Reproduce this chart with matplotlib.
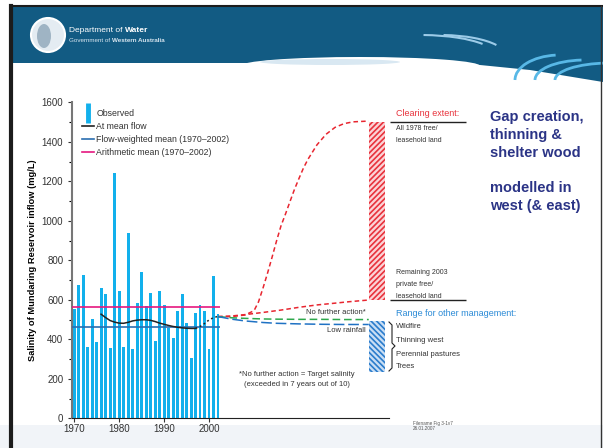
import matplotlib
matplotlib.use("Agg")
import matplotlib.pyplot as plt
from matplotlib.lines import Line2D
from matplotlib.patches import Rectangle, Ellipse, Arc, Circle, Polygon

plt.rcParams['font.family'] = ['Liberation Sans', 'DejaVu Sans']
plt.rcParams['hatch.linewidth'] = 1.2

# observed annual salinity (mg/L), 1970-2002
years = list(range(1970, 2003))
observed = [553, 676, 726, 360, 504, 386, 659, 629, 357, 1244, 647, 360, 940, 352, 586,
            742, 569, 633, 389, 645, 574, 459, 405, 543, 628, 482, 307, 533, 574, 543,
            351, 722, 528]

# salinity at mean flow (smoothed)
mean_flow_years = [1976, 1977, 1978, 1979, 1980, 1981, 1982, 1983, 1984, 1985, 1986, 1987,
                   1988, 1989, 1990, 1991, 1992, 1993, 1994, 1995, 1996, 1997]
mean_flow_vals = [527, 510, 495, 487, 482, 481, 486, 493, 497, 499, 499, 496,
                  490, 482, 476, 470, 465, 461, 458, 456, 455, 455]
dotted_years = [1997, 1998, 1999, 2000, 2001, 2002]
dotted_vals = [455, 465, 480, 498, 510, 516]

flow_weighted_mean = 461
arithmetic_mean = 562

# projections to ~2035
clear_all_years = [2002, 2005, 2008, 2010, 2011, 2012, 2013, 2014, 2015, 2016, 2017, 2018,
                   2019, 2020, 2021, 2022, 2024, 2026, 2028, 2030, 2032, 2035.5]
clear_all_vals = [515, 515, 523, 545, 590, 660, 735, 815, 898, 975, 1035, 1098,
                  1160, 1215, 1268, 1312, 1385, 1438, 1473, 1492, 1501, 1505]
clear_rem_years = [2002, 2005, 2008, 2012, 2016, 2020, 2024, 2028, 2031, 2035.5]
clear_rem_vals = [515, 518, 525, 536, 548, 562, 574, 583, 590, 599]
no_action_years = [2002, 2005, 2008, 2012, 2015, 2020, 2025, 2030, 2035.5]
no_action_vals = [515, 509, 506, 503, 502, 501, 501, 500, 500]
low_rain_years = [2002, 2005, 2008, 2012, 2015, 2020, 2025, 2030, 2035.5]
low_rain_vals = [515, 502, 493, 485, 481, 478, 476, 475, 475]

# ranges shown as hatched bars
clearing_range = (600, 1500)
mgmt_range = (236, 494)
range_x = (2035.6, 2039.2)

fig = plt.figure(figsize=(6.03, 4.48), dpi=100)

# slide background / header in pixel coordinates
bg = fig.add_axes([0, 0, 1, 1], zorder=0)
bg.set_xlim(0, 603)
bg.set_ylim(448, 0)
bg.axis('off')
bg.add_patch(Rectangle((0, 425), 603, 23, color='#f1f4f8', lw=0))
bg.add_patch(Rectangle((12, 7), 591, 56, color='#125b83', lw=0))
bg.add_patch(Polygon([(380, 60), (450, 62), (530, 70), (603, 82), (603, 60)], color='#125b83', lw=0))
bg.add_patch(Ellipse((360, 66), 240, 18, color='white', lw=0))
bg.add_patch(Ellipse((330, 62), 140, 6, color='#d9e8f2', lw=0))
for cx, w, h in [(560, 90, 50), (585, 100, 40), (610, 110, 34)]:
    bg.add_patch(Arc((cx, 80), w, h, theta1=180, theta2=260, color='#58b8e6', lw=2))
for cx, w in [(420, 150), (440, 130)]:
    bg.add_patch(Arc((cx, 55), w, 40, theta1=280, theta2=350, color='#9ccbe8', lw=1.5))
bg.plot([11, 11], [6, 448], color='#1c1c1c', lw=3)
bg.plot([11, 603], [6, 6], color='#1c1c1c', lw=1.5)
bg.plot([601, 601], [6, 448], color='#333333', lw=1)
bg.add_patch(Circle((48, 35), 17, facecolor='#e4ecf2', edgecolor='white', lw=1.5))
bg.add_patch(Ellipse((44, 36), 14, 24, color='#9fb4c4', lw=0))
t1 = bg.text(69, 30, 'Department of', color='white', fontsize=6, va='center')
bg.annotate('Water', xy=(1, 0), xycoords=t1, xytext=(2, 0), textcoords='offset points',
            color='white', fontsize=6, va='bottom', fontweight='bold')
t2 = bg.text(69, 41, 'Government of', color='#d8e6f0', fontsize=4.5, va='center')
bg.annotate('Western Australia', xy=(1, 0), xycoords=t2, xytext=(1.5, 0),
            textcoords='offset points', color='#d8e6f0', fontsize=4.5, va='bottom',
            fontweight='bold')

# main chart
ax = fig.add_axes([72.3 / 603, 1 - 418.3 / 448, (389 - 72.3) / 603, 316 / 448], zorder=1)
ax.set_facecolor('none')
ax.bar(years, observed, width=0.64, color='#12b0ec', zorder=2)
ax.hlines(arithmetic_mean, 1969.6, 2002.5, color='#e5187f', lw=1.2, zorder=3)
ax.hlines(flow_weighted_mean, 1969.6, 2002.5, color='#2a6eb0', lw=1.2, zorder=3)
ax.plot(mean_flow_years, mean_flow_vals, color='#222222', lw=1.1, zorder=4)
ax.plot(dotted_years, dotted_vals, color='#222222', lw=1.1, ls=(0, (1.2, 1.8)), zorder=4)

ax.plot(clear_all_years, clear_all_vals, color='#e82630', lw=1.1, ls=(0, (3, 2)), zorder=3)
ax.plot(clear_rem_years, clear_rem_vals, color='#e82630', lw=1.1, ls=(0, (3, 2)), zorder=3)
ax.plot(no_action_years, no_action_vals, color='#2ea84c', lw=1.1, ls=(0, (5, 2.5)), zorder=3)
ax.plot(low_rain_years, low_rain_vals, color='#1f72c4', lw=1.1, ls=(0, (7, 2.5)), zorder=3)

ax.bar(range_x[0], clearing_range[1] - clearing_range[0], bottom=clearing_range[0],
       width=range_x[1] - range_x[0], align='edge', facecolor='#fbd3d6',
       edgecolor='#e8323c', hatch='//////', lw=0, zorder=2)
ax.bar(range_x[0], mgmt_range[1] - mgmt_range[0], bottom=mgmt_range[0],
       width=range_x[1] - range_x[0], align='edge', facecolor='#c9def4',
       edgecolor='#2a7ccc', hatch='\\\\\\\\\\\\', lw=0, zorder=2)
ax.hlines(clearing_range, 2040.2, 2057.2, color='#222222', lw=1, clip_on=False)

ax.set_xlim(1969.6, 2040)
ax.set_ylim(0, 1600)
ax.set_xticks([1970, 1980, 1990, 2000])
ax.set_yticks(range(0, 1601, 200))
ax.set_yticks(range(100, 1600, 200), minor=True)
ax.tick_params(axis='both', labelsize=7, colors='#333333', length=3, width=0.8)
ax.tick_params(axis='y', which='minor', length=2, width=0.8)
ax.tick_params(axis='x', pad=1)
ax.spines['top'].set_visible(False)
ax.spines['right'].set_visible(False)
ax.spines['left'].set_color('#777777')
ax.spines['left'].set_linewidth(1.5)
ax.spines['bottom'].set_color('#222222')
ax.set_ylabel('Salinity of Mundaring Reservoir inflow (mg/L)', fontsize=6.7,
              fontweight='bold', labelpad=3)

handles = [Line2D([], [], marker='|', markersize=15, markeredgewidth=3.5, color='#12b0ec', ls='none'),
           Line2D([], [], color='#222222', lw=1.2),
           Line2D([], [], color='#2a6eb0', lw=1.2),
           Line2D([], [], color='#e5187f', lw=1.2)]
labels = ['Observed', 'At mean flow', 'Flow-weighted mean (1970\u20132002)',
          'Arithmetic mean (1970\u20132002)']
leg = fig.legend(handles, labels, loc='upper left', bbox_to_anchor=(79 / 603, 1 - 106 / 448),
                 frameon=False, fontsize=6.3, handlelength=1.3, handletextpad=0.3,
                 labelspacing=0.45, borderaxespad=0)
for t in leg.get_texts():
    t.set_color('#333333')

# annotations
kw = dict(color='#333333', fontsize=5.5)
bg.text(366, 313, 'No further action*', ha='right', va='center', **kw)
bg.text(366, 331, 'Low rainfall', ha='right', va='center', **kw)
bg.text(297, 375, '*No further action = Target salinity', ha='center', va='center', **kw)
bg.text(297, 385, '(exceeded in 7 years out of 10)', ha='center', va='center', **kw)
bg.text(396, 113, 'Clearing extent:', color='#e8323c', fontsize=6.5, va='center')
bg.text(396, 128, 'All 1978 free/', color='#333333', fontsize=5, va='center')
bg.text(396, 140, 'leasehold land', color='#333333', fontsize=5, va='center')
bg.text(396, 273, 'Remaining 2003', color='#333333', fontsize=5, va='center')
bg.text(396, 285, 'private free/', color='#333333', fontsize=5, va='center')
bg.text(396, 296, 'leasehold land', color='#333333', fontsize=5, va='center')
bg.text(396, 313, 'Range for other management:', color='#2a8ad6', fontsize=6.5, va='center')
for yy, s in zip([327, 341, 354, 367], ['Wildfire', 'Thinning west', 'Perennial pastures', 'Trees']):
    bg.text(396, yy, s, color='#333333', fontsize=5.5, va='center')
bg.plot([389, 392, 392, 395, 392, 392, 389], [322, 325, 343, 346, 349, 368, 371],
        color='#222222', lw=0.8)
bg.text(413, 423, 'Filename Fig 3-1v7', color='#555555', fontsize=3.3, va='center')
bg.text(413, 428, '26.01.2007', color='#555555', fontsize=3.3, va='center')
bg.text(490, 110, 'Gap creation,\nthinning &\nshelter wood\n\nmodelled in\nwest (& east)',
        color='#2b3486', fontsize=10.5, fontweight='bold', va='top', ha='left', linespacing=1.35)

fig.savefig('out.png', dpi=100)
